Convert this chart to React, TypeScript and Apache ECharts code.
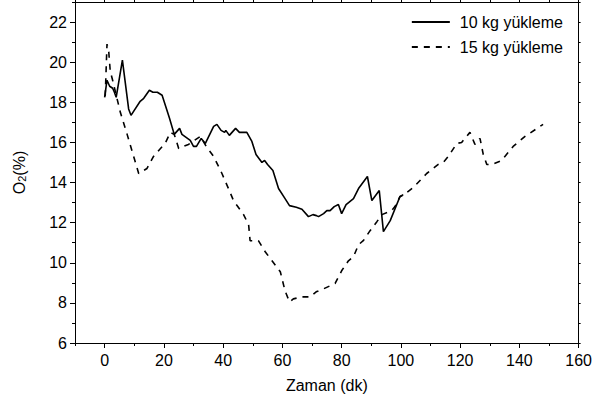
import React, { useEffect, useRef } from "react";
import * as echarts from "echarts";

const seriesNames = ["10 kg yükleme", "15 kg yükleme"];

const load10: [number, number][] = [
  [0, 18.25], [0.8, 19.1], [1.7, 18.8], [2.7, 18.7], [3.3, 18.5], [3.9, 18.25],
  [6.0, 20.1], [8.1, 17.67], [8.9, 17.35], [12.0, 18.05], [13.2, 18.2], [15.1, 18.6],
  [16.3, 18.5], [17.8, 18.5], [19.4, 18.35], [21.9, 17.2], [23.5, 16.4], [25.3, 16.7],
  [26.1, 16.4], [28.9, 16.1], [30, 15.8], [31, 15.8], [32.6, 16.2], [34, 15.95],
  [36.8, 16.8], [37.9, 16.9], [39.3, 16.6], [40.5, 16.5], [40.9, 16.6], [42.1, 16.35],
  [44.2, 16.7], [45.5, 16.5], [48, 16.5], [49.7, 16.05], [51.1, 15.4], [53.1, 15.0],
  [54, 15.1], [55, 14.9], [56.8, 14.6], [58.7, 13.7], [60.9, 13.2], [62.4, 12.85],
  [64.7, 12.77], [66.6, 12.67], [68.8, 12.3], [70.3, 12.4], [71.5, 12.35], [72.2, 12.3],
  [73.9, 12.45], [75, 12.6], [76.1, 12.6], [77.5, 12.8], [78.9, 12.9], [80, 12.45],
  [81.5, 12.9], [84, 13.2], [85.7, 13.7], [88.7, 14.3], [90.2, 13.1], [92.7, 13.6],
  [94.1, 11.55], [96.4, 12.1], [99.7, 13.3], [100.8, 13.4],
];

const load15: [number, number][] = [
  [0.2, 18.3], [0.8, 20.9], [1.4, 20.5], [1.9, 19.55], [2.7, 19.1], [5.3, 17.5],
  [7.6, 16.4], [11.5, 14.45], [14.3, 14.7], [16.5, 15.3], [20.5, 15.97], [22.2, 16.5],
  [23.5, 16.4], [25, 15.7], [28.3, 15.9], [32.3, 16.3], [34.3, 15.8], [36.8, 15.3],
  [39.6, 14.45], [41.8, 13.7], [43.5, 13.1], [46.9, 12.4], [48.6, 11.9], [49.1, 11.1],
  [51.9, 11.1], [54.2, 10.55], [56.5, 10.1], [59.3, 9.55], [60.9, 8.6], [62.4, 8.05],
  [63.7, 8.2], [66.6, 8.3], [69.4, 8.3], [71.4, 8.55], [73.9, 8.7], [77.8, 8.97],
  [80, 9.6], [82.3, 10.1], [84, 10.3], [85.7, 10.9], [87.3, 11.1], [89.6, 11.6],
  [91.9, 12.05], [93.6, 12.4], [96.9, 12.6], [98, 12.8], [99.7, 13.3], [101.1, 13.4],
  [104.2, 13.75], [108.7, 14.45], [112.6, 14.9], [114.3, 15.0], [116, 15.3], [118.9, 15.95],
  [120.5, 16.0], [123.3, 16.5], [125, 15.9], [126.7, 16.2], [127.8, 15.4], [129, 14.9],
  [130.7, 14.9], [134, 15.1], [137.9, 15.8], [141.9, 16.3], [148, 16.9],
];

const xMajorTicks = [0, 20, 40, 60, 80, 100, 120, 140, 160];
const xMinorTicks = [-10, 10, 30, 50, 70, 90, 110, 130, 150];
const xTopTicks = [-10, 0, 10, 20, 30, 40, 50, 60, 70, 80, 90, 100, 110, 120, 130, 140, 150, 160];
const yMajorTicks = [6, 8, 10, 12, 14, 16, 18, 20, 22];
const yMinorTicks = [7, 9, 11, 13, 15, 17, 19, 21, 23];
const yRightTicks = [6, 7, 8, 9, 10, 11, 12, 13, 14, 15, 16, 17, 18, 19, 20, 21, 22, 23];

const FONT = "Liberation Sans, Arial, sans-serif";
const BLACK = "#000";

export default function App() {
  const ref = useRef<HTMLDivElement>(null);
  useEffect(() => {
    document.body.style.margin = "0";
    if (!ref.current) return;
    const chart = echarts.init(ref.current, undefined, { renderer: "svg" });
    const baseX = { type: "value", min: -10, max: 160, gridIndex: 0, splitLine: { show: false } };
    const baseY = { type: "value", min: 6, max: 23, gridIndex: 0, splitLine: { show: false } };
    chart.setOption({
      animation: false,
      backgroundColor: "#fff",
      textStyle: { fontFamily: FONT, color: BLACK },
      grid: { left: 75, right: 16, top: 2, bottom: 62, containLabel: false },
      legend: {
        orient: "vertical",
        right: 27,
        top: 9,
        itemWidth: 38,
        itemHeight: 16,
        itemGap: 9,
        data: seriesNames,
        itemStyle: { opacity: 0 },
        textStyle: { fontSize: 16, color: BLACK, fontFamily: FONT, padding: [0, 0, 0, 5] },
      },
      xAxis: [
        {
          ...baseX,
          position: "bottom",
          name: "Zaman (dk)",
          nameLocation: "middle",
          nameGap: 34,
          nameTextStyle: { fontSize: 16, color: BLACK, fontFamily: FONT },
          axisLine: { show: true, onZero: false, lineStyle: { color: BLACK, width: 1 } },
          axisTick: { show: true, inside: false, length: 5, customValues: xMajorTicks, lineStyle: { color: BLACK } },
          axisLabel: { show: true, customValues: xMajorTicks, fontSize: 16, color: BLACK, margin: 9, fontFamily: FONT },
        },
        {
          ...baseX,
          position: "bottom",
          axisLine: { show: false, onZero: false },
          axisTick: { show: true, inside: false, length: 3, customValues: xMinorTicks, lineStyle: { color: BLACK } },
          axisLabel: { show: false },
        },
        {
          ...baseX,
          position: "top",
          axisLine: { show: true, onZero: false, lineStyle: { color: BLACK, width: 1 } },
          axisTick: { show: true, inside: false, length: 2, customValues: xTopTicks, lineStyle: { color: BLACK } },
          axisLabel: { show: false },
        },
      ],
      yAxis: [
        {
          ...baseY,
          position: "left",
          name: "{o|O}{s|2}{o|(%)}",
          nameLocation: "middle",
          nameGap: 48,
          nameTextStyle: {
            color: BLACK,
            fontFamily: FONT,
            rich: {
              o: { fontSize: 16, lineHeight: 24, verticalAlign: "bottom", fontFamily: FONT, color: BLACK },
              s: { fontSize: 11, lineHeight: 12, verticalAlign: "bottom", fontFamily: FONT, color: BLACK },
            },
          },
          axisLine: { show: true, onZero: false, lineStyle: { color: BLACK, width: 1 } },
          axisTick: { show: true, inside: false, length: 5, customValues: yMajorTicks, lineStyle: { color: BLACK } },
          axisLabel: { show: true, customValues: yMajorTicks, fontSize: 16, color: BLACK, margin: 8, fontFamily: FONT },
        },
        {
          ...baseY,
          position: "left",
          axisLine: { show: false, onZero: false },
          axisTick: { show: true, inside: false, length: 3, customValues: yMinorTicks, lineStyle: { color: BLACK } },
          axisLabel: { show: false },
        },
        {
          ...baseY,
          position: "right",
          axisLine: { show: true, onZero: false, lineStyle: { color: BLACK, width: 1 } },
          axisTick: { show: true, inside: false, length: 2, customValues: yRightTicks, lineStyle: { color: BLACK } },
          axisLabel: { show: false },
        },
      ],
      series: [
        {
          name: seriesNames[0],
          type: "line",
          xAxisIndex: 0,
          yAxisIndex: 0,
          data: load10,
          symbol: "none",
          showSymbol: false,
          lineStyle: { color: BLACK, width: 1.6, type: "solid" },
          itemStyle: { color: BLACK },
        },
        {
          name: seriesNames[1],
          type: "line",
          xAxisIndex: 0,
          yAxisIndex: 0,
          data: load15,
          symbol: "none",
          showSymbol: false,
          lineStyle: { color: BLACK, width: 1.6, type: [6, 6] },
          itemStyle: { color: BLACK },
        },
      ],
    });
    return () => chart.dispose();
  }, []);
  return <div ref={ref} style={{ width: 595, height: 405 }} />;
}
